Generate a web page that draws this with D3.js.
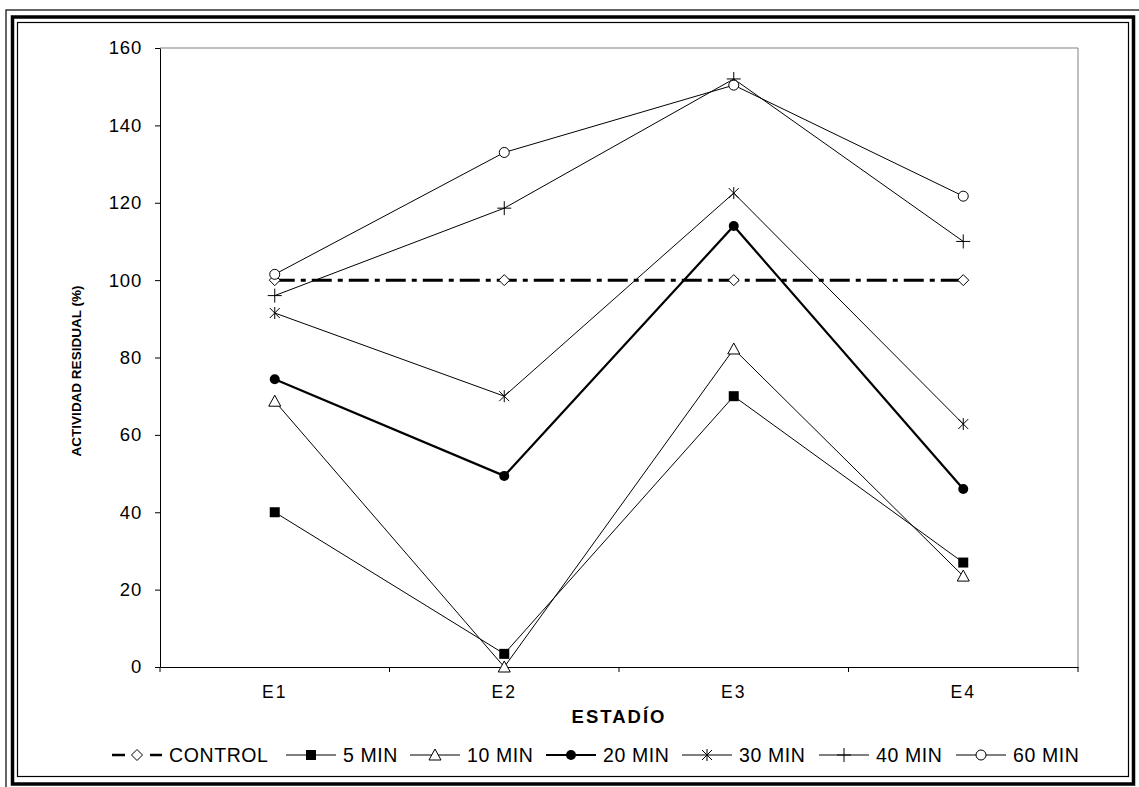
<!DOCTYPE html>
<html>
<head>
<meta charset="utf-8">
<script src="https://cdn.jsdelivr.net/npm/d3@7"></script>
<style>
  html, body { margin: 0; padding: 0; background: #fff; }
  svg { display: block; font-family: "Liberation Sans", Arial, sans-serif; }
</style>
</head>
<body>
<div id="chart"></div>
<script>
// ---- data
const stages = ['E1', 'E2', 'E3', 'E4'];
const yTicks = [0, 20, 40, 60, 80, 100, 120, 140, 160];
const seriesNames = ['CONTROL', '5 MIN', '10 MIN', '20 MIN', '30 MIN', '40 MIN', '60 MIN'];
const control = [100, 100, 100, 100];
const min5   = [40, 3.4, 70, 27];
const min10  = [68.7, 0, 82.2, 23.5];
const min20  = [74.4, 49.4, 114, 46];
const min30  = [91.5, 70, 122.5, 62.8];
const min40  = [96, 118.6, 152, 110];
const min60  = [101.5, 133, 150.4, 121.7];

const W = 1139, H = 787;
const FONT = '"Liberation Sans", Arial, sans-serif';

const svg = d3.select('#chart').append('svg')
  .attr('width', W).attr('height', H);

svg.append('rect').attr('width', W).attr('height', H).attr('fill', '#fff');

// ---- triple frame round the whole chart
svg.append('rect').attr('x', 6).attr('y', 10).attr('width', 1139).attr('height', 787)
  .attr('fill', 'none').attr('stroke', '#000').attr('stroke-width', 1.2);
svg.append('rect').attr('x', 12.5).attr('y', 17).attr('width', 1121).attr('height', 767)
  .attr('fill', 'none').attr('stroke', '#000').attr('stroke-width', 3.5);
svg.append('rect').attr('x', 17.5).attr('y', 22.5).attr('width', 1111).attr('height', 754)
  .attr('fill', 'none').attr('stroke', '#000').attr('stroke-width', 1.2);

// ---- scales
const x = d3.scaleBand().domain(stages).range([160, 1078]).padding(0);
const y = d3.scaleLinear().domain([0, 160]).range([667, 48]);
const cx = d => x(d) + x.bandwidth() / 2;

// plot frame (grey top/right)
svg.append('path')
  .attr('d', `M160,${y(160)}H1078V${y(0)}`)
  .attr('fill', 'none').attr('stroke', '#808080').attr('stroke-width', 1);

// ---- y axis
svg.append('g')
  .attr('transform', 'translate(160,0)')
  .call(d3.axisLeft(y).tickValues(yTicks).tickSize(5).tickPadding(13).tickSizeOuter(0))
  .call(g => g.select('.domain').attr('stroke', '#000'))
  .call(g => g.selectAll('.tick text')
    .attr('font-size', 18.5).attr('fill', '#000').attr('letter-spacing', 0.8)
    .attr('font-family', FONT));

// ---- x axis: labels at band centres, ticks at band boundaries
svg.append('g')
  .attr('transform', `translate(0,${y(0)})`)
  .call(d3.axisBottom(x).tickSize(0).tickPadding(19).tickSizeOuter(0))
  .call(g => g.select('.domain').attr('stroke', '#000'))
  .call(g => g.selectAll('.tick text')
    .attr('font-size', 17.5).attr('fill', '#000').attr('letter-spacing', 2)
    .attr('font-family', FONT));

const bounds = stages.map(s => x(s)).concat([x.range()[1]]);
svg.append('g').selectAll('line').data(bounds).join('line')
  .attr('x1', d => d).attr('x2', d => d)
  .attr('y1', y(0)).attr('y2', y(0) + 5)
  .attr('stroke', '#000');

// axis titles
svg.append('text')
  .attr('x', 619).attr('y', 723)
  .attr('text-anchor', 'middle')
  .attr('font-size', 18.5).attr('font-weight', 700).attr('letter-spacing', 2)
  .text('ESTADÍO');

svg.append('text')
  .attr('transform', 'translate(81,371) rotate(-90)')
  .attr('text-anchor', 'middle')
  .attr('font-size', 13.5).attr('font-weight', 700)
  .text('ACTIVIDAD RESIDUAL (%)');

// ---- markers
function marker(g, type) {
  switch (type) {
    case 'diamond':
      g.append('path').attr('d', 'M0,-5.5L5.5,0L0,5.5L-5.5,0Z')
        .attr('fill', '#fff').attr('stroke', '#000').attr('stroke-width', 1);
      break;
    case 'square':
      g.append('rect').attr('x', -5).attr('y', -5).attr('width', 10).attr('height', 10)
        .attr('fill', '#000');
      break;
    case 'triangle':
      g.append('path').attr('d', 'M0,-6L6,5L-6,5Z')
        .attr('fill', '#fff').attr('stroke', '#000').attr('stroke-width', 1);
      break;
    case 'dot':
      g.append('circle').attr('r', 5).attr('fill', '#000');
      break;
    case 'star':
      g.append('path').attr('d', 'M-5,-5L5,5M-5,5L5,-5M0,-6V6')
        .attr('fill', 'none').attr('stroke', '#000').attr('stroke-width', 1);
      break;
    case 'plus':
      g.append('path').attr('d', 'M-7,0H7M0,-7V7')
        .attr('fill', 'none').attr('stroke', '#000').attr('stroke-width', 1);
      break;
    case 'circle':
      g.append('circle').attr('r', 5).attr('fill', '#fff')
        .attr('stroke', '#000').attr('stroke-width', 1);
      break;
  }
}

const series = [
  { name: seriesNames[0], values: control, mark: 'diamond',  width: 3,   dash: '20,6,5,6' },
  { name: seriesNames[1], values: min5,    mark: 'square',   width: 1,   dash: null },
  { name: seriesNames[2], values: min10,   mark: 'triangle', width: 1,   dash: null },
  { name: seriesNames[3], values: min20,   mark: 'dot',      width: 2.2, dash: null },
  { name: seriesNames[4], values: min30,   mark: 'star',     width: 1,   dash: null },
  { name: seriesNames[5], values: min40,   mark: 'plus',     width: 1,   dash: null },
  { name: seriesNames[6], values: min60,   mark: 'circle',   width: 1,   dash: null }
];

const line = d3.line().x(d => cx(d.stage)).y(d => y(d.v));

// lines first, markers on top
series.forEach(s => {
  const pts = stages.map((st, i) => ({ stage: st, v: s.values[i] }));
  svg.append('path')
    .datum(pts)
    .attr('d', line)
    .attr('fill', 'none')
    .attr('stroke', '#000')
    .attr('stroke-width', s.width)
    .attr('stroke-dasharray', s.dash);
});

series.forEach(s => {
  stages.forEach((st, i) => {
    const g = svg.append('g').attr('transform', `translate(${cx(st)},${y(s.values[i])})`);
    marker(g, s.mark);
  });
});

// ---- legend
const legendX = [112, 286, 410, 546, 682, 819, 956];
const legendY = 755;
series.forEach((s, i) => {
  const g = svg.append('g').attr('transform', `translate(${legendX[i]},${legendY})`);
  if (s.dash) {
    g.append('line').attr('x1', 0).attr('x2', 13).attr('stroke', '#000').attr('stroke-width', 2.5);
    g.append('line').attr('x1', 38).attr('x2', 50).attr('stroke', '#000').attr('stroke-width', 2.5);
  } else {
    g.append('line').attr('x1', 0).attr('x2', 50).attr('stroke', '#000').attr('stroke-width', s.width);
  }
  const m = g.append('g').attr('transform', 'translate(25,0)');
  marker(m, s.mark);
  g.append('text')
    .attr('x', 57).attr('y', 7)
    .attr('font-size', 19.5).attr('letter-spacing', 0.6)
    .text(s.name);
});
</script>
</body>
</html>
